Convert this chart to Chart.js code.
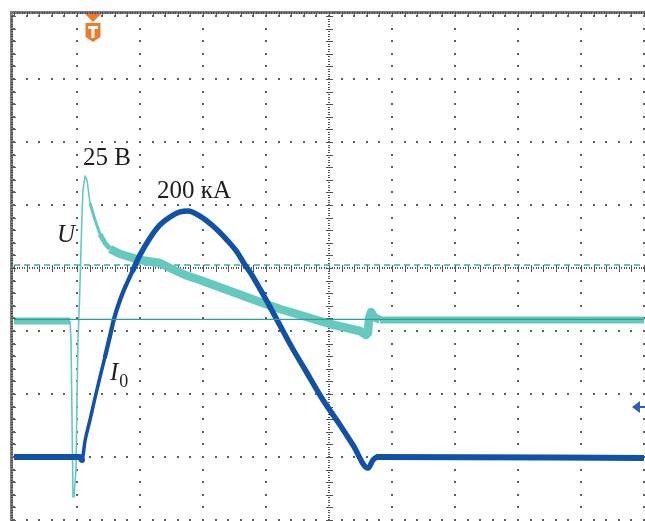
<!DOCTYPE html>
<html><head><meta charset="utf-8">
<script src="https://cdn.jsdelivr.net/npm/chart.js@4.4.1/dist/chart.umd.min.js"></script>
<style>html,body{margin:0;padding:0;background:#fff;}canvas{display:block;}</style>
</head><body>
<canvas id="c" width="645" height="521"></canvas>
<script>
// Oscilloscope screen: x in divisions (0..10), y in divisions (-4..4)
const xDivs = [0, 10];
const yDivs = [-4, 4];

// Voltage trace U (cyan)
const uX = [0, 0.889, 0.905, 0.921, 0.937, 0.952, 0.984, 1.000, 1.016, 1.040, 1.063, 1.079, 1.095, 1.127, 1.159, 1.206, 1.286, 1.365, 1.444, 1.524, 1.683, 1.841, 2.000, 2.317, 2.476, 2.714, 2.952, 3.429, 3.905, 4.222, 4.540, 5.016, 5.492, 5.587, 5.619, 5.635, 5.667, 5.714, 5.810, 10];
const uY = [-0.841, -0.841, -1.143, -2.413, -3.635, -3.619, -3.206, -2.095, -1.143, -0.508, 0.286, 0.841, 1.238, 1.460, 1.397, 1.032, 0.762, 0.540, 0.397, 0.302, 0.222, 0.175, 0.127, 0.079, 0.000, -0.111, -0.190, -0.365, -0.540, -0.651, -0.746, -0.889, -1.000, -1.063, -1.032, -0.794, -0.698, -0.778, -0.825, -0.825];

// Current trace I0 (blue)
const iX = [0, 1.048, 1.079, 1.127, 1.206, 1.286, 1.365, 1.444, 1.524, 1.587, 1.683, 1.794, 1.889, 2.000, 2.159, 2.317, 2.476, 2.635, 2.762, 2.952, 3.159, 3.381, 3.540, 3.667, 3.746, 3.905, 4.270, 4.381, 4.651, 4.905, 5.175, 5.381, 5.619, 5.698, 5.778, 10];
const iY = [-3.0, -3.0, -3.048, -2.746, -2.413, -2.063, -1.730, -1.413, -1.079, -0.810, -0.508, -0.238, -0.032, 0.206, 0.476, 0.683, 0.810, 0.889, 0.905, 0.825, 0.667, 0.444, 0.254, 0.048, -0.063, -0.333, -1.000, -1.206, -1.667, -2.095, -2.492, -2.810, -3.175, -3.048, -3.0, -3.016];

// Reference levels
const uZeroLevel = [-0.817, -0.817];
const uDashLevel = [0.048, 0.048];
const triggerX = 1.254;
const iMarkerY = -2.206;

// Annotations: text, x, y (divisions)
const annX = [1.095, 2.270, 0.683, 1.524];
const annY = [1.635, 1.111, 0.413, -1.778];
const annText = ['25 В', '200 кА', 'U', 'I'];

const pts = (xs, ys) => xs.map((v, k) => ({x: v, y: ys[k]}));

const scopePlugin = {
  id: 'scope',
  beforeDatasetsDraw(chart) {
    const {ctx, chartArea: a, scales: {x, y}} = chart;
    ctx.save();
    ctx.fillStyle = '#5e5e5e';
    for (let i = 0; i <= 10; i++) {
      if (i === 5) continue;
      const px = Math.round(x.getPixelForValue(i));
      for (let k = -20; k <= 20; k++) {
        const py = Math.round(y.getPixelForValue(k / 5));
        ctx.fillRect(px - 1, py - 1, 2, 2);
      }
    }
    for (let j = -4; j <= 4; j++) {
      if (j === 0) continue;
      const py = Math.round(y.getPixelForValue(j));
      for (let k = 0; k <= 50; k++) {
        const px = Math.round(x.getPixelForValue(k / 5));
        ctx.fillRect(px - 1, py - 1, 2, 2);
      }
    }
    const cx = Math.round(x.getPixelForValue(5));
    const cy = Math.round(y.getPixelForValue(0));
    ctx.fillStyle = '#555';
    for (let k = -100; k <= 100; k++) {
      const py = Math.round(y.getPixelForValue(k / 25));
      ctx.fillRect(cx - 1, py, 2, 1);
    }
    for (let k = 0; k <= 250; k++) {
      const px = Math.round(x.getPixelForValue(k / 25));
      ctx.fillRect(px, cy - 1, 1, 2);
    }
    for (let k = -20; k <= 20; k++) {
      const py = Math.round(y.getPixelForValue(k / 5));
      ctx.fillRect(cx - 3, py, 7, 1);
    }
    for (let k = 0; k <= 50; k++) {
      const px = Math.round(x.getPixelForValue(k / 5));
      ctx.fillRect(px, cy - 3, 1, 7);
    }
    ctx.restore();
  },
  afterDatasetsDraw(chart) {
    const {ctx, chartArea: a, scales: {x, y}} = chart;
    ctx.save();
    ctx.fillStyle = '#7d7d7d';
    ctx.fillRect(a.left - 4, a.top - 5, a.right - a.left + 5, 3);
    ctx.fillRect(a.left - 4, a.top - 5, 3, a.bottom - a.top + 6);
    ctx.fillStyle = '#4a4a4a';
    for (let k = 0; k <= 250; k++) {
      const px = Math.round(x.getPixelForValue(k / 25));
      ctx.fillRect(px, a.top - 4, 1, 2);
    }
    for (let k = -100; k <= 100; k++) {
      const py = Math.round(y.getPixelForValue(k / 25));
      ctx.fillRect(a.left - 3, py, 2, 1);
    }
    ctx.fillStyle = '#5e5e5e';
    for (let k = 0; k <= 50; k++) {
      const px = Math.round(x.getPixelForValue(k / 5));
      ctx.fillRect(px, a.top - 2, 1, 3);
    }
    for (let k = -20; k <= 20; k++) {
      const py = Math.round(y.getPixelForValue(k / 5));
      ctx.fillRect(a.left - 1, py, 3, 1);
    }

    // trigger marker
    const tx = Math.round(x.getPixelForValue(triggerX));
    const ty = a.top - 2;
    ctx.fillStyle = '#f07a2c';
    ctx.beginPath();
    ctx.moveTo(tx - 8, ty); ctx.lineTo(tx + 8, ty); ctx.lineTo(tx, ty + 8); ctx.closePath(); ctx.fill();
    ctx.beginPath();
    ctx.moveTo(tx - 7.5, ty + 9);
    ctx.lineTo(tx + 7.5, ty + 9);
    ctx.lineTo(tx + 7.5, ty + 23);
    ctx.lineTo(tx, ty + 28);
    ctx.lineTo(tx - 7.5, ty + 23);
    ctx.closePath(); ctx.fill();
    ctx.fillStyle = '#fff';
    ctx.fillRect(tx - 5, ty + 12, 10, 3);
    ctx.fillRect(tx - 1.5, ty + 12, 3, 12);

    // I0 offset marker on right edge
    const my = Math.round(y.getPixelForValue(iMarkerY));
    ctx.fillStyle = '#2f5fb2';
    ctx.beginPath();
    ctx.moveTo(a.right - 12, my); ctx.lineTo(a.right - 4, my - 6); ctx.lineTo(a.right - 4, my + 6); ctx.closePath(); ctx.fill();
    ctx.fillRect(a.right - 5, my - 1, 7, 2);

    // labels
    ctx.fillStyle = '#1e1e1e';
    ctx.textBaseline = 'alphabetic';
    ctx.textAlign = 'left';
    for (let k = 0; k < annText.length; k++) {
      const px = x.getPixelForValue(annX[k]);
      const py = y.getPixelForValue(annY[k]);
      ctx.font = (k >= 2 ? 'italic ' : '') + '25px "Liberation Serif", "Times New Roman", serif';
      ctx.fillText(annText[k], px, py);
      if (k === 3) {
        const w = ctx.measureText(annText[k]).width;
        ctx.font = '18px "Liberation Serif", "Times New Roman", serif';
        ctx.fillText('0', px + w + 1, py + 7);
      }
    }
    ctx.restore();
  }
};

const uWidth = (c) => {
  const x0 = c.p0.parsed.x;
  if (x0 >= 0.88 && x0 < 1.2) return 1.6;
  if (x0 >= 1.2 && x0 < 1.3) return 3;
  if (x0 >= 1.3 && x0 < 1.45) return 5;
  if (x0 < 0.88 || x0 >= 5.8) return 7;
  return 8.5;
};
const iWidth = (c) => {
  const x0 = c.p0.parsed.x;
  if (x0 >= 1.07 && x0 < 1.4) return 3.5;
  if (x0 >= 1.4 && x0 < 1.8) return 4.3;
  if (x0 < 1.07 || x0 >= 5.7) return 6;
  return 5.5;
};

new Chart(document.getElementById('c'), {
  type: 'line',
  data: {
    datasets: [
      {
        label: 'U zero', data: pts(xDivs, uZeroLevel), borderColor: '#2e9e96', borderWidth: 1.3,
        pointRadius: 0, order: 0
      },
      {
        label: 'I0', data: pts(iX, iY), borderColor: '#1151a7', borderWidth: 5.5,
        pointRadius: 0, cubicInterpolationMode: 'monotone', order: 1,
        segment: {borderWidth: iWidth}, borderJoinStyle: 'round', borderCapStyle: 'round'
      },
      {
        label: 'U', data: pts(uX, uY), borderColor: '#66c9c0', borderWidth: 5,
        pointRadius: 0, tension: 0, order: 2,
        segment: {borderWidth: uWidth}, borderJoinStyle: 'round'
      },
      {
        label: 'U level', data: pts(xDivs, uDashLevel), borderColor: '#3cb1a7', borderWidth: 1.5,
        borderDash: [6, 4], pointRadius: 0, order: 3
      }
    ]
  },
  options: {
    responsive: false,
    animation: false,
    events: [],
    layout: {padding: {left: 14, top: 16, right: 1, bottom: 1}},
    scales: {
      x: {type: 'linear', min: xDivs[0], max: xDivs[1], display: false},
      y: {type: 'linear', min: yDivs[0], max: yDivs[1], display: false}
    },
    plugins: {legend: {display: false}, tooltip: {enabled: false}}
  },
  plugins: [scopePlugin]
});
</script>
</body></html>
